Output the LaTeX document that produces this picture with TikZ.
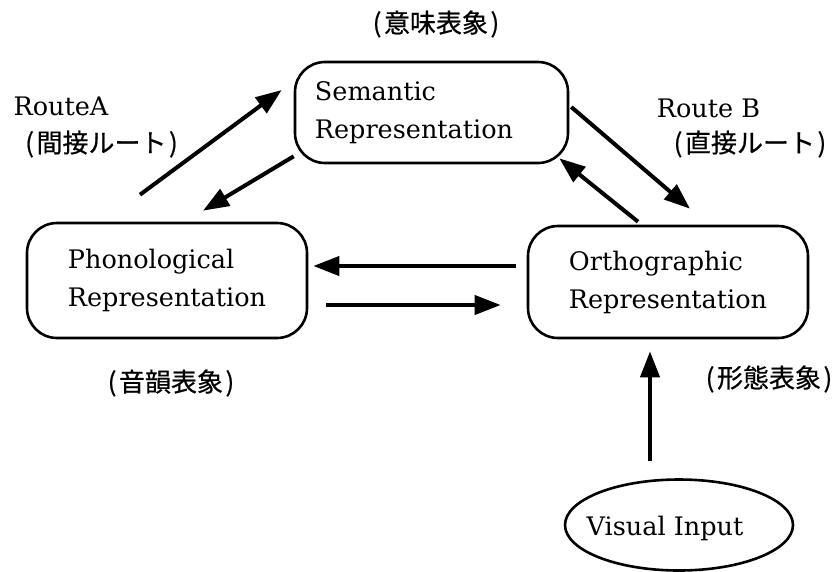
\documentclass[tikz,border=0pt]{standalone}
\usepackage{fontspec}
\setmainfont{DejaVu Serif}
\newfontfamily\jp[FakeBold=0.6]{Noto Sans CJK JP}
\newcommand{\jpar}[1]{(\kern2.5pt#1\kern2.5pt)}
\usetikzlibrary{arrows.meta,shapes.geometric,calc}
\begin{document}
\begin{tikzpicture}[x=1pt,y=-1pt,
  box/.style={draw, line width=2.6pt, rounded corners=30pt, align=left,
    font=\fontsize{25.5}{38}\selectfont, inner sep=0pt},
  arr/.style={line width=4pt, -{Triangle[length=26pt,width=19pt]}},
  lbl/.style={font=\fontsize{25.5}{30}\selectfont, inner sep=0pt},
  jlbl/.style={font=\jp\fontsize{26}{30}\selectfont, inner sep=0pt}]
\useasboundingbox (0,0) rectangle (836,571);

% boxes
\node[box, minimum width=273pt, minimum height=101pt] (sem) at (431.5,112.5)
  {Semantic\\Representation\hspace*{35pt}};
\node[box, minimum width=280pt, minimum height=115pt] (phon) at (167,280.5)
  {Phonological\\Representation};
\node[box, minimum width=280pt, minimum height=112pt] (ortho) at (668,282)
  {Orthographic\\Representation};
\node[draw, ellipse, line width=2.6pt, minimum width=228pt, minimum height=91pt, inner sep=0pt] (vis) at (679,525) {};
\node[lbl] (vistxt) at (665,528) {Visual Input};

% labels
\node[jlbl] (semjp) at (436,24) {\jpar{意味表象}};
\node[lbl] (routea) at (61,106) {RouteA};
\node[jlbl] (routeajp) at (101.5,144) {\jpar{間接ルート}};
\node[lbl] (routeb) at (708.5,108) {Route B};
\node[jlbl] (routebjp) at (750,144) {\jpar{直接ルート}};
\node[jlbl] (phonjp) at (171,383) {\jpar{音韻表象}};
\node[jlbl] (orthojp) at (769,379) {\jpar{形態表象}};

% connectors
\draw[arr] ($(ortho.west)+(-11,-16)$) -- ($(phon.east)+(5,-14.5)$);
\draw[arr] ($(phon.east)+(18,24.5)$) -- ($(ortho.west)+(-26,23)$);
\draw[arr] ($(phon.north)+(-27,-27)$) -- ($(sem.west)+(-12,-22.5)$);
\draw[arr] ($(sem.south west)+(0,-8)$) -- ($(phon.north)+(36,-11)$);
\draw[arr] ($(sem.east)+(2,-5.5)$) -- ($(ortho.north)+(22,-16)$);
\draw[arr] ($(ortho.north)+(-30,-3)$) -- ($(sem.south east)+(-10,-6)$);
\draw[arr] ($(vis.north)+(-29,-17)$) -- ($(ortho.south)+(-18,12)$);
\end{tikzpicture}
\end{document}
